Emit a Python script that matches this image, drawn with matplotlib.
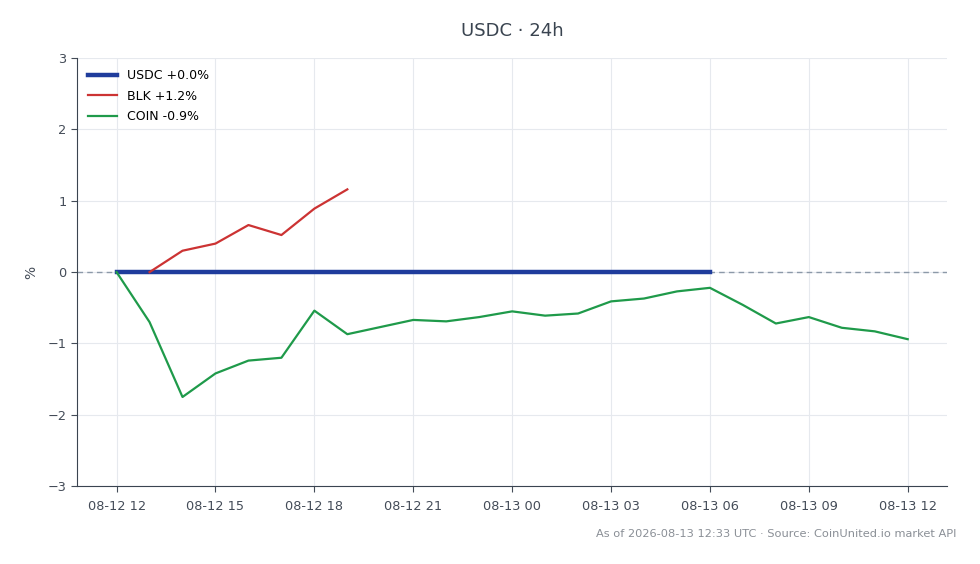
import numpy as np
import pandas as pd
import matplotlib
matplotlib.use('Agg')
import matplotlib.pyplot as plt
import matplotlib.dates as mdates

# hourly timestamps, 24h window
times = pd.date_range('2026-08-12 12:00', '2026-08-13 12:00', freq='h')

usdc = [0.0] * 19
blk = [0.0, 0.30, 0.40, 0.66, 0.52, 0.89, 1.16]
coin = [0.0, -0.70, -1.75, -1.42, -1.24, -1.20, -0.54, -0.87, -0.77, -0.67,
        -0.69, -0.63, -0.55, -0.61, -0.58, -0.41, -0.37, -0.27, -0.22, -0.46,
        -0.72, -0.63, -0.78, -0.83, -0.94]

labels = ['USDC +0.0%', 'BLK +1.2%', 'COIN -0.9%']
colors = ['#1f3c9c', '#cc3333', '#1f9a4a']

title = 'USDC · 24h'
footer = 'As of 2026-08-13 12:33 UTC · Source: CoinUnited.io market API'

text_col = '#444c58'

fig = plt.figure(figsize=(9.8, 5.64), dpi=100)
ax = fig.add_axes([0.0786, 0.138, 0.888, 0.759])

ax.axhline(0, color='#8c99a8', lw=1, ls='--', dashes=(4, 3), zorder=1)
ax.plot(times[:len(usdc)], usdc, color=colors[0], lw=3.2, label=labels[0], zorder=3)
ax.plot(times[1:1 + len(blk)], blk, color=colors[1], lw=1.6, label=labels[1], zorder=4)
ax.plot(times[:len(coin)], coin, color=colors[2], lw=1.6, label=labels[2], zorder=4)

ax.set_ylim(-3, 3)
ax.set_yticks([-3, -2, -1, 0, 1, 2, 3])
ax.xaxis.set_major_locator(mdates.HourLocator(byhour=range(0, 24, 3)))
ax.xaxis.set_major_formatter(mdates.DateFormatter('%m-%d %H'))

ax.grid(True, color='#e6e9ee', lw=0.8)
ax.set_axisbelow(True)
for s in ['top', 'right']:
    ax.spines[s].set_visible(False)
for s in ['left', 'bottom']:
    ax.spines[s].set_color('#3a4450')
ax.tick_params(colors=text_col, labelsize=9.3, length=4)
ax.tick_params(axis='x', pad=6)

ax.set_ylabel('%', color=text_col, fontsize=10, labelpad=7)
ax.set_title(title, color='#3a4450', fontsize=13, pad=16)

ax.legend(loc='upper left', frameon=False, fontsize=9, handlelength=2.3,
          borderaxespad=0.5, labelspacing=0.6)

fig.text(0.976, 0.045, footer, ha='right', va='bottom', fontsize=8.2, color='#8a8f96')

fig.savefig('out.png', dpi=100)
